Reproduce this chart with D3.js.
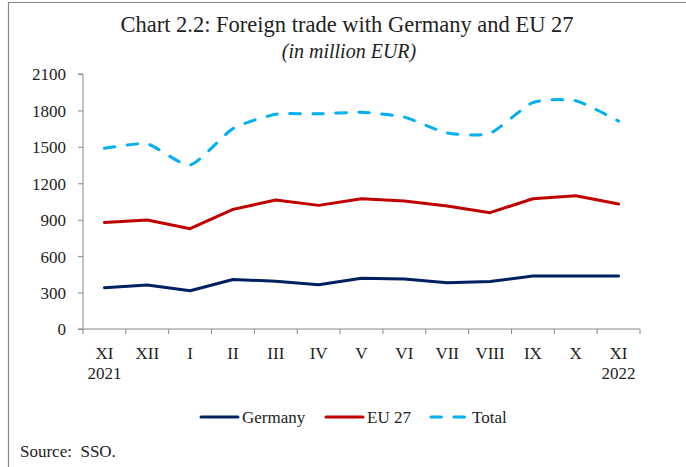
<!DOCTYPE html>
<html>
<head>
<meta charset="utf-8">
<script src="https://cdn.jsdelivr.net/npm/d3@7"></script>
<style>
  body { margin: 0; background: #fff; }
  text { font-family: "Liberation Serif", "DejaVu Serif", serif; fill: #222; }
</style>
</head>
<body>
<div id="plot"></div>
<script>
// data
const months = ["XI", "XII", "I", "II", "III", "IV", "V", "VI", "VII", "VIII", "IX", "X", "XI "];
const years = ["2021", "", "", "", "", "", "", "", "", "", "", "", "2022"];
const germany = [340, 362, 315, 408, 393, 365, 418, 411, 381, 392, 436, 436, 436];
const eu27 = [878, 897, 826, 985, 1062, 1018, 1073, 1054, 1013, 958, 1073, 1098, 1029];
const total = [1488, 1524, 1351, 1650, 1768, 1772, 1784, 1745, 1614, 1612, 1865, 1880, 1712];
const yTicks = [0, 300, 600, 900, 1200, 1500, 1800, 2100];

const w = 686;
const h = 467;
const margin = {top: 74, right: 46, bottom: 138, left: 83};
const innerWidth = w - margin.left - margin.right;
const innerHeight = h - margin.top - margin.bottom;

const svg = d3.select("div#plot")
  .append("svg")
    .attr("width", w)
    .attr("height", h);

// outer frame (left and top edges visible)
svg.append("path")
  .attr("d", `M8.5,${h}V2.5H${w}`)
  .attr("fill", "none")
  .attr("stroke", "#888")
  .attr("stroke-width", 1.2);

// titles
svg.append("text")
  .attr("x", 347)
  .attr("y", 32)
  .attr("text-anchor", "middle")
  .style("font-size", "22.5px")
  .text("Chart 2.2: Foreign trade with Germany and EU 27");

svg.append("text")
  .attr("x", 349)
  .attr("y", 58)
  .attr("text-anchor", "middle")
  .style("font-size", "20px")
  .style("font-style", "italic")
  .text("(in million EUR)");

const xScale = d3.scaleBand()
  .domain(months)
  .range([margin.left, margin.left + innerWidth]);

const yScale = d3.scaleLinear()
  .domain([0, 2100])
  .range([margin.top + innerHeight, margin.top]);

const xMid = d => xScale(d) + xScale.bandwidth() / 2;

// y axis
const yAxis = d3.axisLeft(yScale)
  .tickValues(yTicks)
  .tickFormat(d3.format("d"))
  .tickSize(5)
  .tickPadding(12);

const gy = svg.append("g")
  .attr("transform", `translate(${margin.left}, 0)`)
  .call(yAxis);
gy.attr("font-family", null).attr("font-size", null);
gy.select(".domain").attr("stroke", "#888")
  .attr("d", `M-5,${yScale(0)}H0V${yScale(2100)}H-5`);
gy.selectAll(".tick line").attr("stroke", "#888");
gy.selectAll(".tick text")
  .style("font-size", "17px")
  .attr("dy", "0.35em")
  .attr("fill", "#222");

// x axis with tick marks between categories
const baseY = yScale(0);

svg.append("line")
  .attr("x1", margin.left)
  .attr("x2", margin.left + innerWidth)
  .attr("y1", baseY)
  .attr("y2", baseY)
  .attr("stroke", "#888");

svg.selectAll("line.xtick")
  .data(d3.range(months.length + 1))
  .enter()
  .append("line")
    .attr("class", "xtick")
    .attr("x1", d => margin.left + d * xScale.step())
    .attr("x2", d => margin.left + d * xScale.step())
    .attr("y1", baseY)
    .attr("y2", baseY + 5)
    .attr("stroke", "#888");

svg.selectAll("text.month")
  .data(months)
  .enter()
  .append("text")
    .attr("class", "month")
    .attr("x", xMid)
    .attr("y", baseY + 30)
    .attr("text-anchor", "middle")
    .style("font-size", "17px")
    .text(d => d.trim());

svg.selectAll("text.year")
  .data(months.filter((d, i) => years[i] !== ""))
  .enter()
  .append("text")
    .attr("class", "year")
    .attr("x", xMid)
    .attr("y", baseY + 50)
    .attr("text-anchor", "middle")
    .style("font-size", "17px")
    .text(d => years[months.indexOf(d)]);

// lines
const series = [
  {name: "Germany", values: germany, color: "#002060", dash: null, curve: d3.curveLinear},
  {name: "EU 27", values: eu27, color: "#C00000", dash: null, curve: d3.curveLinear},
  {name: "Total", values: total, color: "#00B0F0", dash: "10.5,12.5", curve: d3.curveCardinal.tension(0.4)}
];

series.forEach(function (s) {
  const line = d3.line()
    .x((d, i) => xMid(months[i]))
    .y(d => yScale(d))
    .curve(s.curve);

  svg.append("path")
    .datum(s.values)
    .attr("d", line)
    .attr("fill", "none")
    .attr("stroke", s.color)
    .attr("stroke-width", 3)
    .attr("stroke-linecap", "round")
    .attr("stroke-linejoin", "round")
    .attr("stroke-dasharray", s.dash);
});

// legend
const legendX = [200, 325, 430];
const legend = svg.selectAll("g.legend")
  .data(series)
  .enter()
  .append("g")
    .attr("class", "legend")
    .attr("transform", (d, i) => `translate(${legendX[i]}, 417)`);

legend.append("line")
  .attr("x1", 1)
  .attr("x2", 38)
  .attr("y1", 0)
  .attr("y2", 0)
  .attr("stroke", d => d.color)
  .attr("stroke-width", 3)
  .attr("stroke-linecap", "round")
  .attr("stroke-dasharray", d => d.dash ? "10.5,12.5" : null);

legend.append("text")
  .attr("x", 42)
  .attr("y", 5.5)
  .style("font-size", "17px")
  .text(d => d.name);

// source
svg.append("text")
  .attr("x", 20)
  .attr("y", 457)
  .style("font-size", "17px")
  .attr("xml:space", "preserve")
  .text("Source:  SSO.");
</script>
</body>
</html>
